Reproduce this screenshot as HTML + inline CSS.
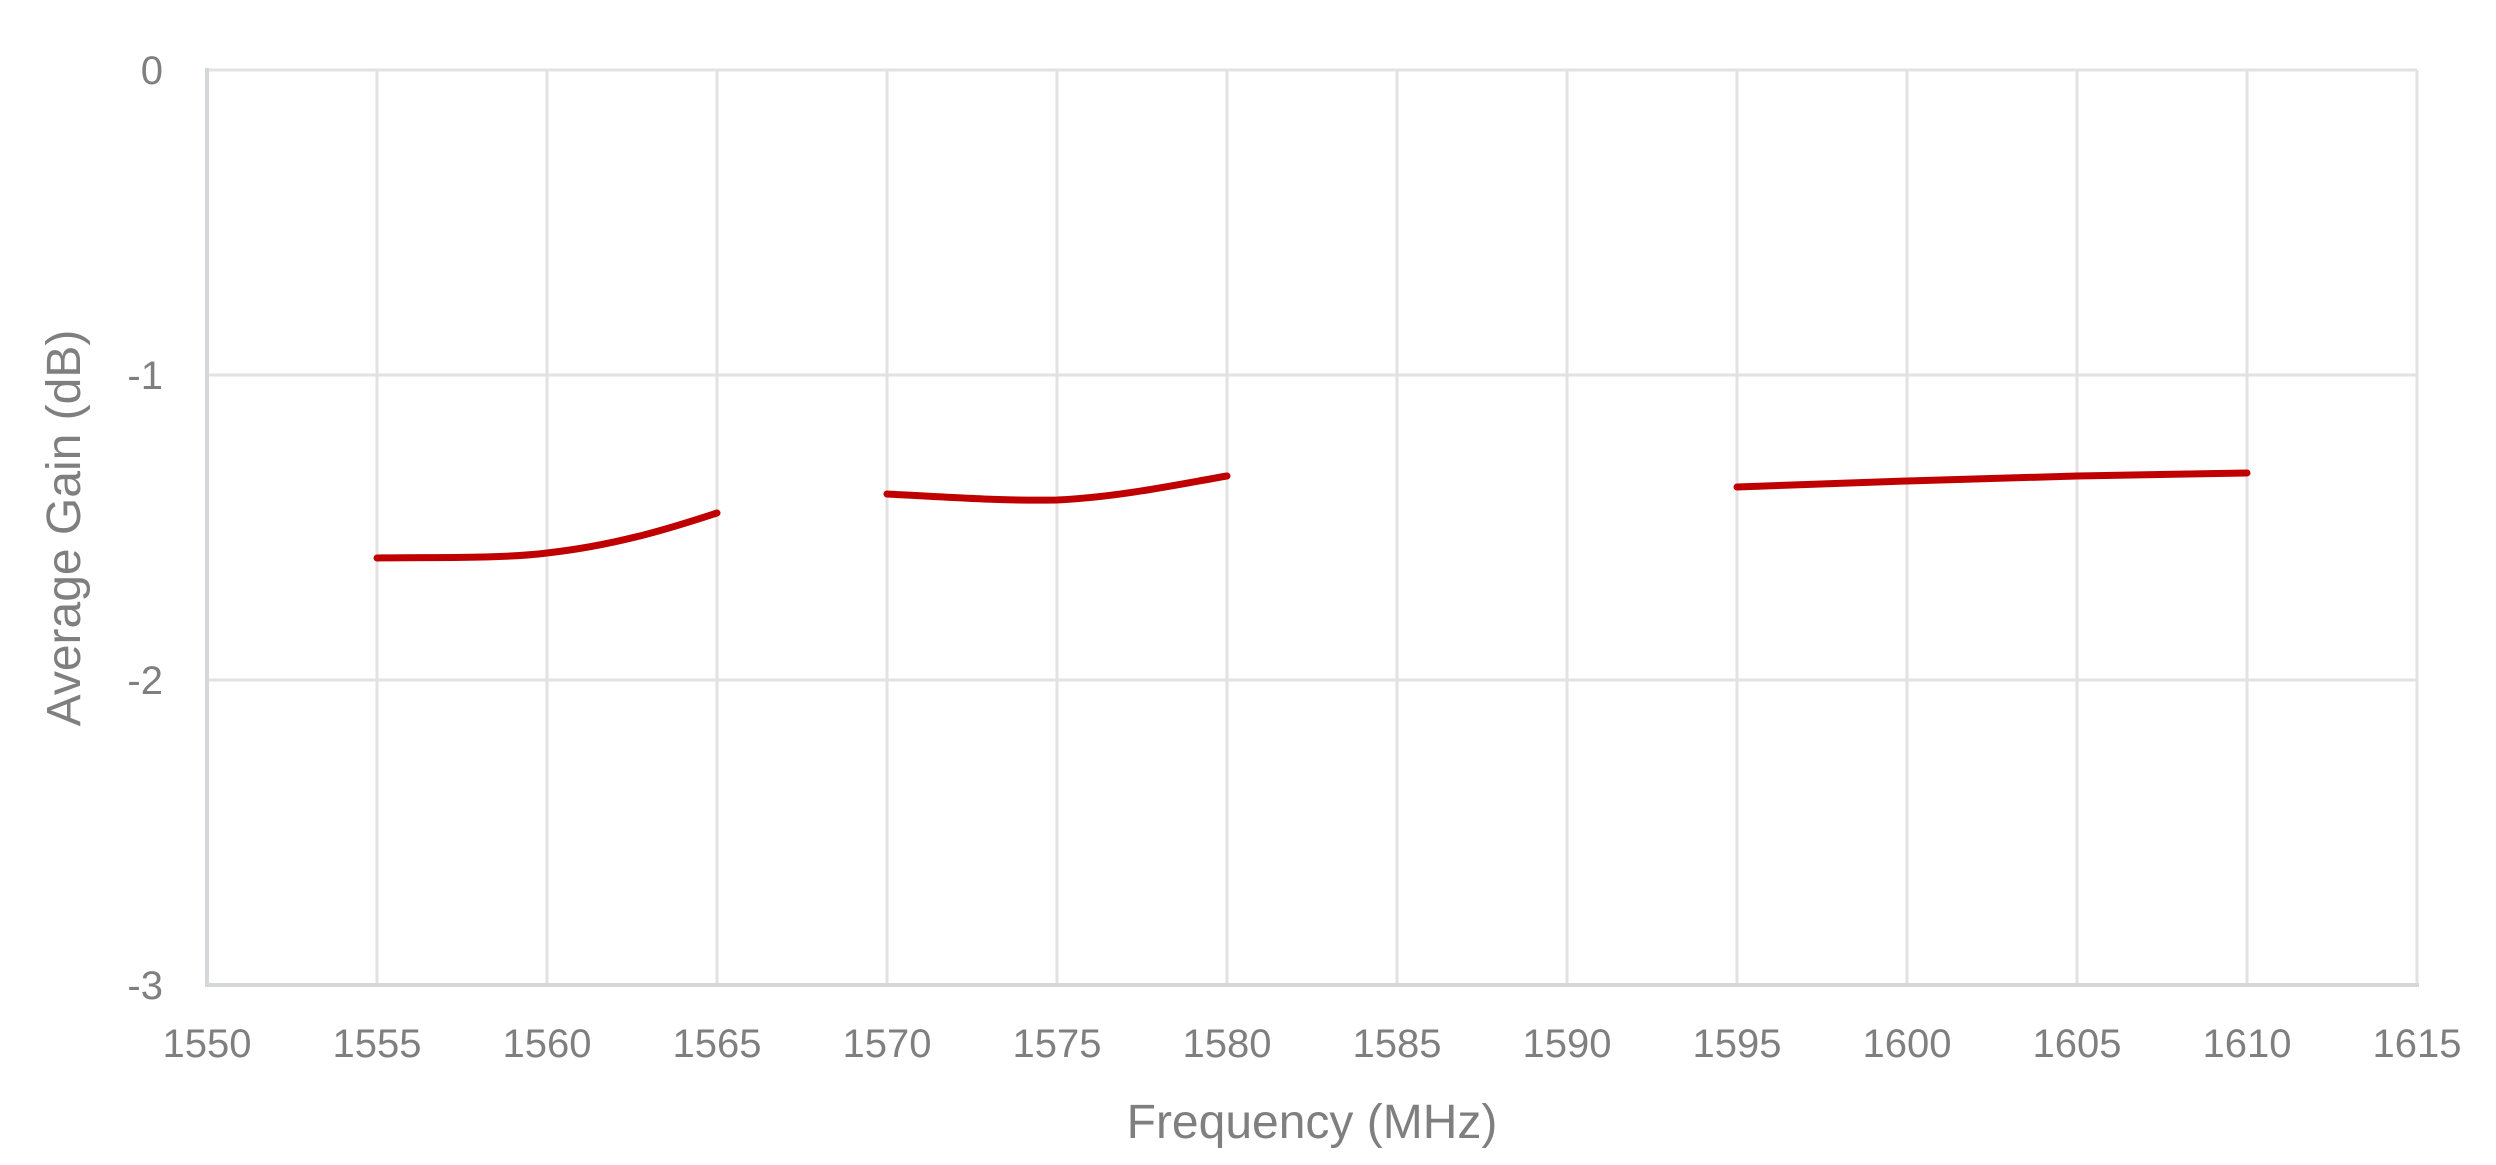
<!DOCTYPE html>
<html><head><style>body{margin:0;background:#fff}svg{display:block}</style></head><body>
<svg width="2496" height="1165" viewBox="0 0 2496 1165" xmlns="http://www.w3.org/2000/svg" font-family="'Liberation Sans', sans-serif" fill="#7f7f7f">
<g stroke="#e2e2e2" stroke-width="3">
<line x1="207" y1="70" x2="2417" y2="70"/><line x1="207" y1="375" x2="2417" y2="375"/><line x1="207" y1="680" x2="2417" y2="680"/>
<line x1="377" y1="70" x2="377" y2="985"/><line x1="547" y1="70" x2="547" y2="985"/><line x1="717" y1="70" x2="717" y2="985"/><line x1="887" y1="70" x2="887" y2="985"/><line x1="1057" y1="70" x2="1057" y2="985"/><line x1="1227" y1="70" x2="1227" y2="985"/><line x1="1397" y1="70" x2="1397" y2="985"/><line x1="1567" y1="70" x2="1567" y2="985"/><line x1="1737" y1="70" x2="1737" y2="985"/><line x1="1907" y1="70" x2="1907" y2="985"/><line x1="2077" y1="70" x2="2077" y2="985"/><line x1="2247" y1="70" x2="2247" y2="985"/><line x1="2417" y1="70" x2="2417" y2="985"/>
</g>
<g stroke="#d4d8d8" stroke-width="4"><line x1="207" y1="68" x2="207" y2="987"/><line x1="205" y1="985" x2="2419" y2="985"/></g>
<g fill="none" stroke="#c00000" stroke-width="7" stroke-linecap="round">
<path d="M377,558 C430,557 500,559 547,553 C620,545 680,525 717,513"/>
<path d="M887,494 C960,498 1010,501 1057,500 C1120,497 1180,484 1227,476"/>
<path d="M1737,487 L1907,481 L2077,476 L2247,473"/>
</g>
<g font-size="40" text-anchor="end">
<text x="163" y="84">0</text><text x="163" y="389">-1</text><text x="163" y="694">-2</text><text x="163" y="999">-3</text>
</g>
<g font-size="40" text-anchor="middle">
<text x="207" y="1057">1550</text><text x="377" y="1057">1555</text><text x="547" y="1057">1560</text><text x="717" y="1057">1565</text><text x="887" y="1057">1570</text><text x="1057" y="1057">1575</text><text x="1227" y="1057">1580</text><text x="1397" y="1057">1585</text><text x="1567" y="1057">1590</text><text x="1737" y="1057">1595</text><text x="1907" y="1057">1600</text><text x="2077" y="1057">1605</text><text x="2247" y="1057">1610</text><text x="2417" y="1057">1615</text>
</g>
<text x="1312" y="1138" font-size="48" text-anchor="middle">Frequency (MHz)</text>
<text transform="translate(80,528) rotate(-90)" font-size="48" text-anchor="middle">Average Gain (dB)</text>
</svg>
</body></html>
